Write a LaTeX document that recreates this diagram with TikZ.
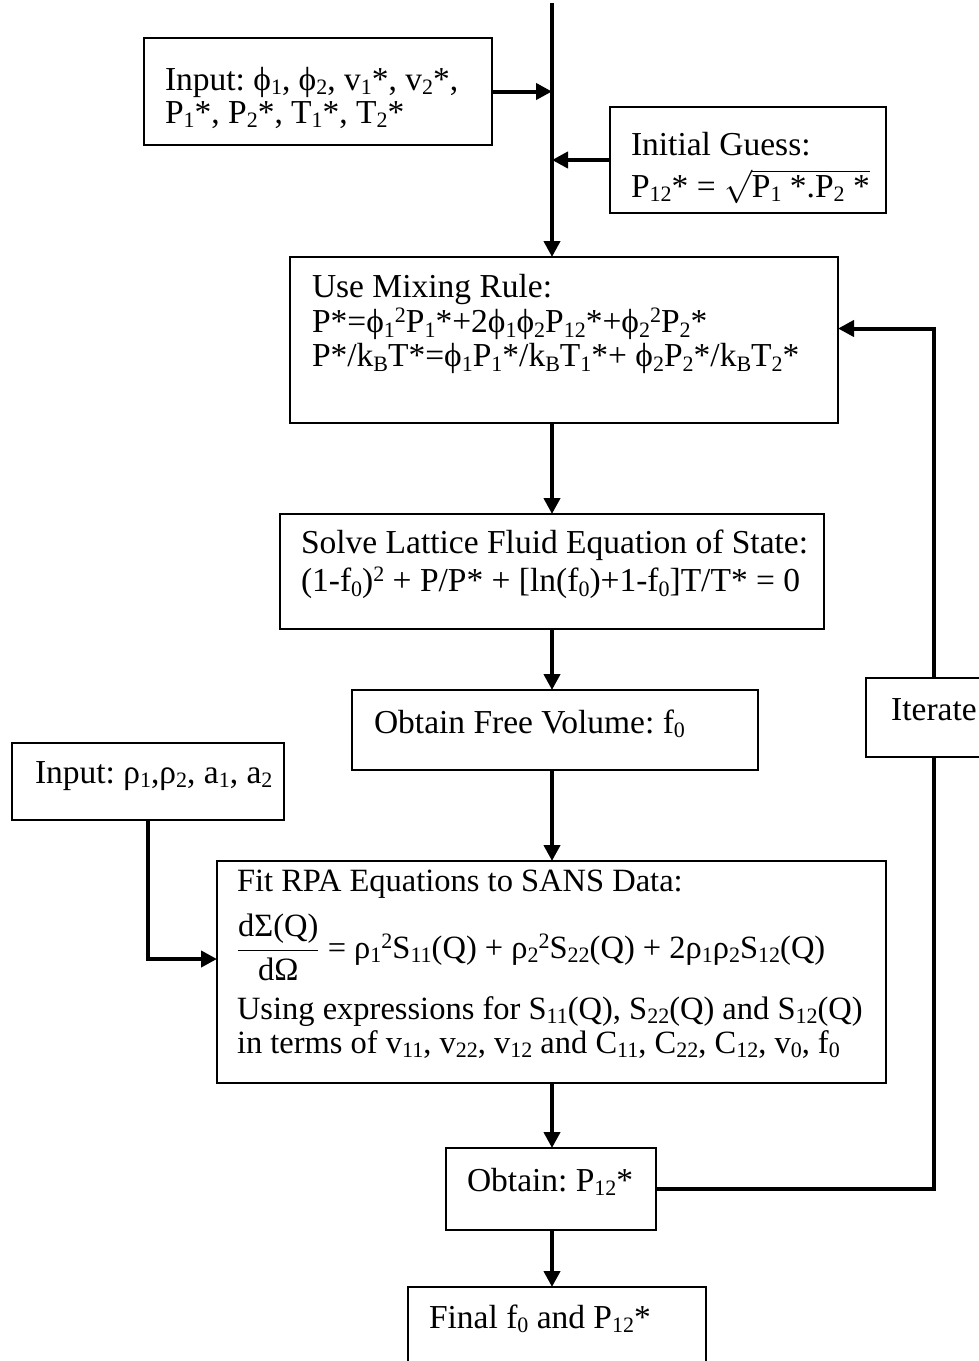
\RequirePackage{fix-cm}
\documentclass[tikz,border=0pt]{standalone}
\usepackage{fontspec}
\setmainfont{Liberation Serif}
\usetikzlibrary{arrows.meta,calc}
\newcommand\sbs[1]{\raisebox{-4.5pt}{\fontsize{22}{22}\selectfont #1}}
\newcommand\sps[1]{\raisebox{10pt}{\fontsize{22}{22}\selectfont #1}}

\begin{document}
\begin{tikzpicture}[x=1pt,y=-1pt,font=\fontsize{33.5}{31}\selectfont\frenchspacing,
  kasten/.style={draw,line width=2pt,anchor=north west,align=flush left,outer sep=0pt,inner ysep=0pt,inner xsep=21pt,
    execute at begin node={\spaceskip=0pt\xspaceskip=0pt}},
  pfeil/.style={line width=4pt,-{Triangle[length=16pt,width=16pt]}},
  linie/.style={line width=4pt}]
  \useasboundingbox (0,0) rectangle (979,1361);
  \clip (0,0) rectangle (979,1361);
  \coordinate (top) at (552,3);
  % inputs and first guess
  \node[kasten,text width=306pt,text height=52pt,text depth=55pt] (inA) at (144,38)
    {\mbox{Input: ϕ\sbs{1}, ϕ\sbs{2}, v\sbs{1}*, v\sbs{2}*,}\\[2pt]\mbox{P\sbs{1}*, P\sbs{2}*, T\sbs{1}*, T\sbs{2}*}};
  \node[kasten,text width=234pt,text height=48pt,text depth=58pt] (gss) at (610,107)
    {Initial Guess:\\[11pt]\mbox{P\sbs{12}* = \smash{$\sqrt{\mbox{P\sbs{1} *.P\sbs{2} *}}$}}};
  % main column
  \node[kasten,inner xsep=22pt,text width=504pt,text height=40pt,text depth=126pt] (mix) at (290,257)
    {Use Mixing Rule:\\[3pt] \mbox{P*=ϕ\sbs{1}\sps{2}P\sbs{1}*+2ϕ\sbs{1}ϕ\sbs{2}P\sbs{12}*+ϕ\sbs{2}\sps{2}P\sbs{2}*}\\[3pt]
     \mbox{P*/k\sbs{B}T*=ϕ\sbs{1}P\sbs{1}*/k\sbs{B}T\sbs{1}*+ ϕ\sbs{2}P\sbs{2}*/k\sbs{B}T\sbs{2}*}};
  \node[kasten,text width=502pt,text height=39pt,text depth=76pt] (slv) at (280,514)
    {\mbox{Solve Lattice Fluid Equation of State:}\\[6pt] \mbox{(1-f\sbs{0})\sps{2} + P/P* + [ln(f\sbs{0})+1-f\sbs{0}]T/T* = 0}};
  \node[kasten,inner xsep=22pt,text width=362pt,text height=43pt,text depth=37pt] (fvol) at (352,690)
    {\mbox{Obtain Free Volume: f\sbs{0}}};
  \node[kasten,inner xsep=23pt,text width=226pt,text height=40pt,text depth=37pt] (inB) at (12,743)
    {\mbox{Input: ρ\sbs{1},ρ\sbs{2}, a\sbs{1}, a\sbs{2}}};
  \node[kasten,font=\fontsize{32.5}{31}\selectfont,inner xsep=20pt,text width=629pt,text height=30pt,text depth=192pt] (fit) at (217,861)
    {\mbox{Fit RPA Equations to SANS Data:}\\[35pt]
     \mbox{\smash{$\displaystyle\frac{\mbox{dΣ(Q)}}{\mbox{dΩ}}$} = ρ\sbs{1}\sps{2}S\sbs{11}(Q) + ρ\sbs{2}\sps{2}S\sbs{22}(Q) + 2ρ\sbs{1}ρ\sbs{2}S\sbs{12}(Q)}\\[30pt]
     \mbox{Using expressions for S\sbs{11}(Q), S\sbs{22}(Q) and S\sbs{12}(Q)}\\[3pt]
     \mbox{in terms of v\sbs{11}, v\sbs{22}, v\sbs{12} and C\sbs{11}, C\sbs{22}, C\sbs{12}, v\sbs{0}, f\sbs{0}}};
  \node[kasten,text width=168pt,text height=43pt,text depth=39pt] (obt) at (446,1148) {\mbox{Obtain: P\sbs{12}*}};
  \node[kasten,text width=256pt,text height=41pt,text depth=60pt] (fin) at (408,1287) {\mbox{Final f\sbs{0} and P\sbs{12}*}};
  \node[kasten,inner xsep=0pt,minimum width=136pt,text height=42pt,text depth=37pt] (iter) at (866,678) {Iterate};
  % connectors
  \draw[pfeil] (top) -- (top |- mix.north);
  \draw[pfeil] (inA.east) -- (inA.east -| top);
  \draw[pfeil] (gss.west) -- (gss.west -| top);
  \foreach \a/\b in {mix/slv,slv/fvol,fvol/fit,fit/obt,obt/fin}
    \draw[pfeil] (top |- \a.south) -- (top |- \b.north);
  \draw[linie] (obt.east) -| (iter.south);
  \draw[pfeil] (iter.north) |- ([yshift=11.5pt]mix.east);
  \draw[pfeil] (inB.south) |- ([yshift=13pt]fit.west);
\end{tikzpicture}
\end{document}
